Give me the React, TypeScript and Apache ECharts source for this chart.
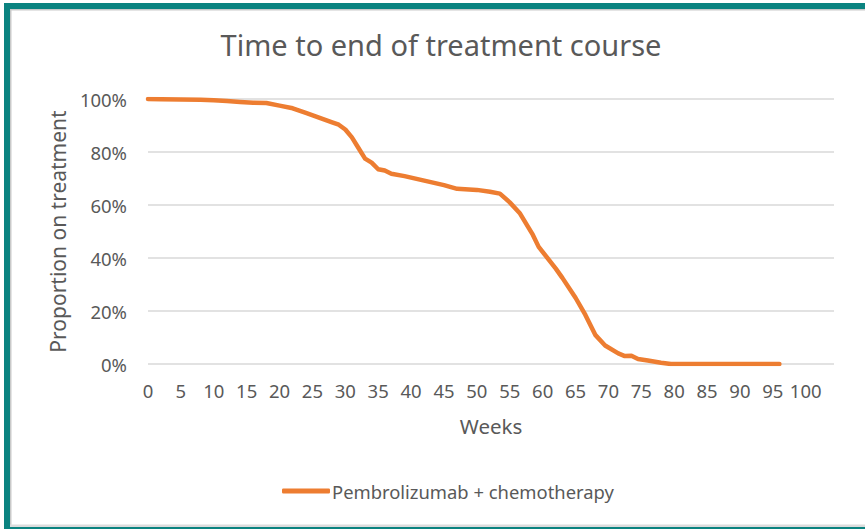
import React, { useEffect, useRef } from "react";
import * as echarts from "echarts";

const weeks = [0, 2, 5, 8, 10, 12, 14, 16, 18, 20, 22, 24, 26, 28, 29, 30, 31, 32, 33, 34, 35, 36, 37, 39, 42, 45, 47, 50, 52, 53.5, 55, 56.5, 57.6, 58.5, 59.4, 62, 63, 65, 66.5, 68, 69.5, 71.5, 72.5, 73.5, 74.5, 76, 78, 79.5, 85, 90, 96];
const proportion = [100, 99.9, 99.8, 99.7, 99.5, 99.2, 98.9, 98.6, 98.5, 97.5, 96.5, 94.8, 93, 91.2, 90.3, 88.5, 85.5, 81.5, 77.5, 76, 73.5, 73, 71.8, 70.9, 69.2, 67.5, 66.1, 65.7, 65, 64.3, 61, 57, 52.5, 48.8, 44.2, 36, 32.5, 25, 18.5, 11, 7, 4, 3, 3.1, 1.9, 1.3, 0.5, 0, 0, 0, 0];
const seriesName = "Pembrolizumab + chemotherapy";
const titleText = "Time to end of treatment course";
const xAxisName = "Weeks";
const yAxisName = "Proportion on treatment";

const FONT = "Noto Sans";
const TXT = "#595959";

export default function App() {
  const ref = useRef<HTMLDivElement>(null);
  useEffect(() => {
    if (!ref.current) return;
    const chart = echarts.init(ref.current, null, { renderer: "svg" });
    const data = weeks.map((w, i) => [w, proportion[i]]);
    chart.setOption({
      animation: false,
      backgroundColor: "#ffffff",
      textStyle: { fontFamily: FONT, color: TXT },
      title: {
        text: titleText,
        left: 441,
        top: 30,
        textAlign: "center",
        padding: 0,
        textStyle: { fontFamily: FONT, fontSize: 29, fontWeight: "normal", color: TXT },
      },
      grid: { left: 148, right: 31, top: 99, bottom: 165, containLabel: false },
      xAxis: {
        type: "value",
        min: 0,
        max: 104.3,
        interval: 5,
        name: xAxisName,
        nameLocation: "middle",
        nameGap: 51,
        nameTextStyle: { fontFamily: FONT, fontSize: 20.5, color: TXT },
        axisLine: { show: false },
        axisTick: { show: false },
        splitLine: { show: false },
        axisLabel: {
          showMaxLabel: false,
          fontFamily: FONT,
          fontSize: 18.5,
          color: TXT,
          margin: 17,
          formatter: (v: number) => (v <= 100 ? String(v) : ""),
        },
      },
      yAxis: {
        type: "value",
        min: 0,
        max: 100,
        interval: 20,
        name: yAxisName,
        nameLocation: "middle",
        nameGap: 77,
        nameTextStyle: { fontFamily: FONT, fontSize: 21, color: TXT },
        axisLine: { show: false },
        axisTick: { show: false },
        splitLine: { show: true, lineStyle: { color: "#d9d9d9", width: 1.6 } },
        axisLabel: {
          fontFamily: FONT,
          fontSize: 18.5,
          color: TXT,
          margin: 21,
          formatter: (v: number) => v + "%",
        },
      },
      legend: {
        data: [seriesName],
        left: 277,
        top: 477,
        itemWidth: 48,
        itemHeight: 5,
        itemGap: 10,
        icon: "roundRect",
        textStyle: { fontFamily: FONT, fontSize: 18.4, color: TXT, padding: [0, 0, 0, -3] },
      },
      series: [
        {
          name: seriesName,
          type: "line",
          data,
          showSymbol: false,
          symbol: "none",
          smooth: false,
          lineStyle: { color: "#ED7D31", width: 4.5, cap: "round", join: "round" },
          itemStyle: { color: "#ED7D31" },
        },
      ],
      graphic: [
        { type: "rect", shape: { x: 4, y: 3, width: 861, height: 6 }, style: { fill: "#0B8380" }, silent: true },
        { type: "rect", shape: { x: 4, y: 3, width: 6, height: 526 }, style: { fill: "#0B8380" }, silent: true },
        { type: "rect", shape: { x: 4, y: 527, width: 861, height: 2 }, style: { fill: "#0B8380" }, silent: true },
        { type: "rect", shape: { x: 10, y: 9, width: 855, height: 1.5 }, style: { fill: "#c9c9c9" }, silent: true },
        { type: "rect", shape: { x: 10, y: 9, width: 1.5, height: 518 }, style: { fill: "#c9c9c9" }, silent: true },
        { type: "rect", shape: { x: 10, y: 524.5, width: 855, height: 2.5 }, style: { fill: "#dcdcdc" }, silent: true },
      ],
    });
    return () => chart.dispose();
  }, []);
  return (
    <div style={{ position: "fixed", left: 0, top: 0, width: 865, height: 529 }}>
      <div ref={ref} style={{ width: 865, height: 529 }} />
    </div>
  );
}
